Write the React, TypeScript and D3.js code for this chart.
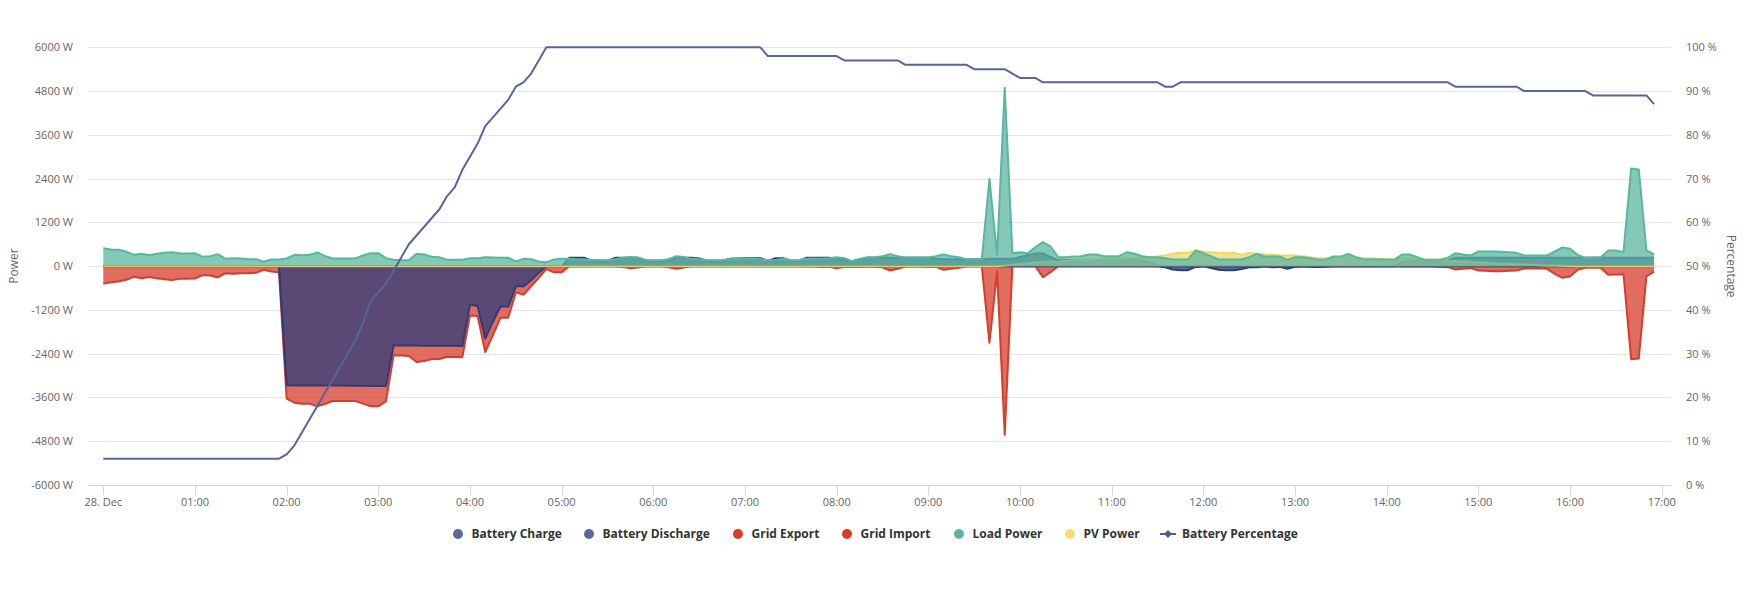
import * as d3 from "d3";

// 5-minute samples from 00:00 to 16:55 on 28 Dec (12 values per row = 1 hour)
const STEP_MINUTES = 5;

const hourLabels = [
  "28. Dec", "01:00", "02:00", "03:00", "04:00", "05:00", "06:00", "07:00", "08:00",
  "09:00", "10:00", "11:00", "12:00", "13:00", "14:00", "15:00", "16:00", "17:00",
];
const powerTicks = [-6000, -4800, -3600, -2400, -1200, 0, 1200, 2400, 3600, 4800, 6000];
const percentTicks = [0, 10, 20, 30, 40, 50, 60, 70, 80, 90, 100];

const batteryCharge = [
  0, 0, 0, 0, 0, 0, 0, 0, 0, 0, 0, 0,
  0, 0, 0, 0, 0, 0, 0, 0, 0, 0, 0, 0,
  -3268, -3270, -3270, -3270, -3275, -3275, -3275, -3275, -3280, -3280, -3280, -3285,
  -3285, -3287, -2173, -2173, -2175, -2175, -2180, -2180, -2180, -2185, -2185, -2190,
  -1059, -1090, -1985, -1523, -1108, -1108, -554, -554, -388, -185, 0, 0,
  0, 0, 0, 0, 0, 0, 0, 0, 0, 0, 0, 0,
  0, 0, 0, 0, 0, 0, 0, 0, 0, 0, 0, 0,
  0, 0, 0, 0, 0, 0, 0, 0, 0, 0, 0, 0,
  0, 0, 0, 0, 0, 0, 0, 0, 0, 0, 0, 0,
  0, 0, 0, 0, 0, 0, 0, 0, 0, 0, 0, 0,
  0, 0, 0, 0, 0, 0, 0, 0, 0, 0, 0, 0,
  0, 0, 0, 0, 0, 0, 0, -30, -90, -110, -110, -20,
  0, -50, -100, -110, -110, -80, -30, -30, 0, -30, -20, -70,
  -20, 0, -15, -20, -15, 0, 0, 0, 0, 0, 0, 0,
  0, 0, 0, 0, 0, 0, 0, 0, 0, 0, 0, 0,
  0, 0, 0, 0, 0, 0, 0, 0, 0, 0, 0, 0,
  0, 0, 0, 0, 0, 0, 0, 0, 0, 0, 0, 0,
];

const batteryDischarge = [
  0, 0, 0, 0, 0, 0, 0, 0, 0, 0, 0, 0,
  0, 0, 0, 0, 0, 0, 0, 0, 0, 0, 0, 0,
  0, 0, 0, 0, 0, 0, 0, 0, 0, 0, 0, 0,
  0, 0, 0, 0, 0, 0, 0, 0, 0, 0, 0, 0,
  0, 0, 0, 0, 0, 0, 0, 0, 0, 0, 0, 0,
  0, 228, 228, 228, 146, 146, 146, 228, 228, 228, 228, 146,
  146, 146, 146, 228, 228, 228, 210, 146, 146, 146, 200, 210,
  219, 219, 219, 146, 219, 219, 146, 146, 228, 228, 228, 228,
  200, 180, 137, 180, 228, 228, 228, 228, 228, 228, 228, 228,
  228, 200, 190, 190, 190, 190, 180, 180, 200, 200, 200, 200,
  250, 300, 350, 350, 250, 160, 170, 170, 170, 170, 170, 170,
  170, 170, 170, 170, 150, 100, 40, 0, 0, 0, 0, 0,
  0, 0, 0, 0, 0, 0, 0, 0, 0, 0, 0, 0,
  0, 0, 0, 0, 0, 0, 0, 0, 0, 0, 0, 0,
  0, 0, 120, 150, 150, 130, 110, 110, 150, 230, 230, 230,
  230, 230, 230, 230, 230, 230, 230, 230, 230, 230, 230, 230,
  230, 230, 230, 230, 230, 230, 230, 230, 230, 230, 230, 230,
];

const gridExport = [
  0, 0, 0, 0, 0, 0, 0, 0, 0, 0, 0, 0,
  0, 0, 0, 0, 0, 0, 0, 0, 0, 0, 0, 0,
  0, 0, 0, 0, 0, 0, 0, 0, 0, 0, 0, 0,
  0, 0, 0, 0, 0, 0, 0, 0, 0, 0, 0, 0,
  0, 0, 0, 0, 0, 0, 0, 0, 0, 0, 0, 0,
  0, 0, 0, 0, 0, 0, 0, 0, 0, 0, 0, 0,
  0, 0, 0, 0, 0, 0, 0, 0, 0, 0, 0, 0,
  0, 0, 0, 0, 0, 0, 0, 0, 0, 0, 0, 0,
  0, 0, 0, 0, 0, 0, 0, 0, 0, 0, 0, 0,
  0, 0, 0, 0, 0, 0, 0, 0, 0, 0, 0, 0,
  0, 0, 0, 0, 0, 0, 0, 0, 0, 0, 0, 0,
  0, 0, 0, 0, 0, 0, 0, 0, 0, 0, 0, 0,
  0, 0, 0, 0, 0, 0, 0, 0, 0, 0, 0, 0,
  0, 0, 0, 0, 0, 0, 0, 0, 0, 0, 0, 0,
  0, 0, 0, 0, 0, 0, 0, 0, 0, 0, 0, 0,
  0, 0, 0, 0, 0, 0, 0, 0, 0, 0, 0, 0,
  0, 0, 0, 0, 0, 0, 0, 0, 0, 0, 0, 0,
];

const gridImport = [
  -480, -440, -420, -375, -290, -330, -300, -330, -356, -383, -347, -347,
  -338, -247, -256, -310, -192, -210, -192, -192, -183, -100, -146, -164,
  -3634, -3743, -3770, -3770, -3844, -3780, -3698, -3698, -3698, -3698, -3770, -3844,
  -3844, -3707, -2447, -2447, -2465, -2630, -2602, -2547, -2547, -2483, -2492, -2500,
  -1351, -1366, -2354, -1892, -1412, -1412, -720, -785, -554, -323, -80, -170,
  -170, 0, 0, 0, 0, 0, 0, 0, -20, -55, -40, 0,
  0, 0, -30, -73, -40, 0, 0, 0, 0, 0, 0, 0,
  0, 0, 0, 0, 0, 0, 0, 0, -10, 0, -20, -20,
  -55, -20, -20, -20, -10, -20, -30, -120, -73, -10, -10, -10,
  -20, -20, -100, -73, -46, -10, 0, 0, -2100, -150, -4620, 0,
  0, 0, 0, -300, -165, 0, 0, 0, 0, 0, 0, 0,
  0, 0, 0, 0, 0, 0, 0, 0, 0, 0, 0, 0,
  0, 0, 0, 0, 0, 0, 0, 0, 0, 0, 0, 0,
  0, 0, 0, 0, 0, 0, 0, 0, 0, 0, 0, 0,
  0, 0, -10, -10, -10, -10, -10, -20, -27, -91, -73, -55,
  -119, -128, -137, -137, -128, -119, -64, -64, -64, -73, -210, -320,
  -283, -100, -46, -46, -46, -237, -228, -220, -2550, -2530, -274, -155,
];

const loadPower = [
  490, 456, 447, 400, 310, 338, 300, 338, 365, 383, 356, 347,
  356, 256, 274, 329, 200, 219, 210, 192, 192, 119, 183, 183,
  210, 310, 301, 310, 374, 283, 210, 210, 210, 210, 292, 356,
  356, 219, 173, 164, 164, 338, 320, 256, 247, 173, 173, 173,
  219, 219, 246, 240, 230, 230, 128, 200, 190, 128, 110, 183,
  200, 200, 190, 180, 170, 160, 170, 190, 230, 250, 240, 170,
  160, 160, 190, 270, 250, 200, 190, 170, 160, 160, 190, 200,
  200, 200, 190, 160, 170, 200, 170, 160, 200, 210, 200, 219,
  246, 219, 137, 200, 246, 246, 274, 329, 274, 240, 240, 240,
  240, 274, 320, 274, 246, 192, 192, 192, 2390, 300, 4890, 356,
  383, 356, 520, 657, 539, 246, 246, 265, 274, 320, 320, 274,
  274, 274, 383, 338, 274, 246, 246, 219, 183, 183, 183, 430,
  356, 274, 183, 183, 183, 183, 246, 338, 265, 265, 265, 173,
  246, 246, 219, 173, 173, 265, 265, 338, 246, 183, 183, 183,
  183, 173, 320, 320, 246, 173, 173, 173, 228, 356, 320, 292,
  402, 402, 402, 392, 383, 365, 292, 292, 292, 292, 402, 511,
  475, 310, 228, 235, 235, 429, 429, 383, 2680, 2650, 430, 320,
];

const pvPower = [
  0, 0, 0, 0, 0, 0, 0, 0, 0, 0, 0, 0,
  0, 0, 0, 0, 0, 0, 0, 0, 0, 0, 0, 0,
  0, 0, 0, 0, 0, 0, 0, 0, 0, 0, 0, 0,
  0, 0, 0, 0, 0, 0, 0, 0, 0, 0, 0, 0,
  0, 0, 0, 0, 0, 0, 0, 0, 0, 0, 0, 0,
  0, 0, 0, 0, 0, 0, 0, 0, 0, 0, 0, 0,
  0, 0, 0, 0, 0, 0, 0, 0, 0, 0, 0, 0,
  0, 0, 0, 0, 0, 0, 0, 0, 0, 0, 0, 0,
  0, 0, 0, 0, 0, 0, 0, 0, 0, 0, 0, 0,
  0, 0, 0, 0, 0, 0, 0, 0, 0, 0, 20, 40,
  60, 80, 100, 110, 120, 130, 150, 160, 170, 180, 190, 200,
  200, 210, 220, 230, 250, 246, 265, 292, 338, 365, 365, 430,
  400, 383, 365, 356, 365, 310, 365, 338, 320, 310, 292, 292,
  292, 274, 246, 219, 219, 246, 246, 300, 219, 219, 219, 200,
  190, 183, 220, 210, 200, 185, 175, 165, 150, 140, 130, 115,
  105, 95, 80, 70, 60, 50, 45, 35, 25, 20, 15, 10,
  5, 0, 0, 0, 0, 0, 0, 0, 0, 0, 0, 0,
];

const batteryPercentage = [
  6, 6, 6, 6, 6, 6, 6, 6, 6, 6, 6, 6,
  6, 6, 6, 6, 6, 6, 6, 6, 6, 6, 6, 6,
  7, 9, 12, 15, 18, 21, 24, 27, 30, 33, 37, 42,
  44, 46, 49, 52, 55, 57, 59, 61, 63, 66, 68, 72,
  75, 78, 82, 84, 86, 88, 91, 92, 94, 97, 100, 100,
  100, 100, 100, 100, 100, 100, 100, 100, 100, 100, 100, 100,
  100, 100, 100, 100, 100, 100, 100, 100, 100, 100, 100, 100,
  100, 100, 100, 98, 98, 98, 98, 98, 98, 98, 98, 98,
  98, 97, 97, 97, 97, 97, 97, 97, 97, 96, 96, 96,
  96, 96, 96, 96, 96, 96, 95, 95, 95, 95, 95, 94,
  93, 93, 93, 92, 92, 92, 92, 92, 92, 92, 92, 92,
  92, 92, 92, 92, 92, 92, 92, 91, 91, 92, 92, 92,
  92, 92, 92, 92, 92, 92, 92, 92, 92, 92, 92, 92,
  92, 92, 92, 92, 92, 92, 92, 92, 92, 92, 92, 92,
  92, 92, 92, 92, 92, 92, 92, 92, 92, 91, 91, 91,
  91, 91, 91, 91, 91, 91, 90, 90, 90, 90, 90, 90,
  90, 90, 90, 89, 89, 89, 89, 89, 89, 89, 89, 87,
];

const areaSeries = [
  { name: "Grid Export", values: gridExport, color: "#d73c2c", legend: "#d73c2c" },
  { name: "Grid Import", values: gridImport, color: "#d73c2c", legend: "#d73c2c" },
  { name: "Battery Charge", values: batteryCharge, color: "#2b3d7b", legend: "#5b6a9e" },
  { name: "Battery Discharge", values: batteryDischarge, color: "#2b3d7b", legend: "#5b6a9e" },
  { name: "PV Power", values: pvPower, color: "#f1d766", legend: "#f5dc78" },
  { name: "Load Power", values: loadPower, color: "#5bb5a0", legend: "#5bb5a0" },
];

const legendItems = [
  { name: "Battery Charge", color: "#5b6a9e", x: 458 },
  { name: "Battery Discharge", color: "#5b6a9e", x: 589 },
  { name: "Grid Export", color: "#d73c2c", x: 738 },
  { name: "Grid Import", color: "#d73c2c", x: 847 },
  { name: "Load Power", color: "#5bb5a0", x: 959 },
  { name: "PV Power", color: "#f5dc78", x: 1070 },
];

const WIDTH = 1747;
const HEIGHT = 592;
const plot = { left: 88, right: 1671, top: 47.3, bottom: 485 };
const FONT = "'Open Sans', 'Noto Sans', sans-serif";

export default function App() {
  const x = d3.scaleLinear().domain([0, 17 * 60]).range([103.3, 1661.7]);
  const yPower = d3.scaleLinear().domain([-6000, 6000]).range([plot.bottom, plot.top]);
  const yPct = d3.scaleLinear().domain([0, 100]).range([plot.bottom, plot.top]);

  const area = d3
    .area<number>()
    .x((_, i) => x(i * STEP_MINUTES))
    .y0(yPower(0))
    .y1((d) => yPower(d));
  const line = d3
    .line<number>()
    .x((_, i) => x(i * STEP_MINUTES))
    .y((d) => yPower(d));
  const pctLine = d3
    .line<number>()
    .x((_, i) => x(i * STEP_MINUTES))
    .y((d) => yPct(d));

  return (
    <div style={{ position: "absolute", left: 0, top: 0 }}>
      <svg width={WIDTH} height={HEIGHT} style={{ display: "block", fontFamily: FONT }}>
        <rect width={WIDTH} height={HEIGHT} fill="#ffffff" />

        {/* grid */}
        {powerTicks.map((t) => (
          <line
            key={`g-${t}`}
            x1={plot.left}
            x2={plot.right}
            y1={Math.round(yPower(t)) + 0.5}
            y2={Math.round(yPower(t)) + 0.5}
            stroke="#e6e6e6"
          />
        ))}

        {/* left axis labels */}
        {powerTicks.map((t) => (
          <text key={`yl-${t}`} x={73} y={yPower(t) + 4} textAnchor="end" fontSize={11} fill="#666666">
            {`${t} W`}
          </text>
        ))}
        <text
          transform={`translate(18, ${(plot.top + plot.bottom) / 2}) rotate(-90)`}
          textAnchor="middle"
          fontSize={12}
          fill="#666666"
        >
          Power
        </text>

        {/* right axis labels */}
        {percentTicks.map((t) => (
          <text key={`yr-${t}`} x={1686} y={yPct(t) + 4} textAnchor="start" fontSize={11} fill="#666666">
            {`${t} %`}
          </text>
        ))}
        <text
          transform={`translate(1727, ${(plot.top + plot.bottom) / 2}) rotate(90)`}
          textAnchor="middle"
          fontSize={12}
          fill="#666666"
        >
          Percentage
        </text>

        {/* series */}
        <g>
          {areaSeries.map((s) => (
            <g key={s.name}>
              <path d={area(s.values) ?? ""} fill={s.color} fillOpacity={0.75} />
              <path d={line(s.values) ?? ""} fill="none" stroke={s.color} strokeWidth={2} strokeLinejoin="round" />
            </g>
          ))}
          <path
            d={pctLine(batteryPercentage) ?? ""}
            fill="none"
            stroke="#56659c"
            strokeWidth={2}
            strokeLinejoin="round"
          />
        </g>

        {/* x axis */}
        <line x1={plot.left} x2={plot.right} y1={plot.bottom + 0.5} y2={plot.bottom + 0.5} stroke="#ccd6eb" />
        {hourLabels.map((label, h) => {
          const px = Math.round(x(h * 60)) + 0.5;
          return (
            <g key={label}>
              <line x1={px} x2={px} y1={plot.bottom} y2={plot.bottom + 10} stroke="#ccd6eb" />
              <text x={x(h * 60)} y={506} textAnchor="middle" fontSize={11} fill="#666666">
                {label}
              </text>
            </g>
          );
        })}

        {/* legend */}
        <g fontSize={12} fontWeight="bold" fill="#333333">
          {legendItems.map((item) => (
            <g key={item.name}>
              <circle cx={item.x} cy={534} r={5} fill={item.color} />
              <text x={item.x + 13.5} y={538}>
                {item.name}
              </text>
            </g>
          ))}
          <line x1={1160} x2={1176} y1={534} y2={534} stroke="#4f5d96" strokeWidth={2} />
          <path d="M1168,530 L1172,534 L1168,538 L1164,534 Z" fill="#4f5d96" />
          <text x={1182} y={538}>
            Battery Percentage
          </text>
        </g>
      </svg>
    </div>
  );
}
